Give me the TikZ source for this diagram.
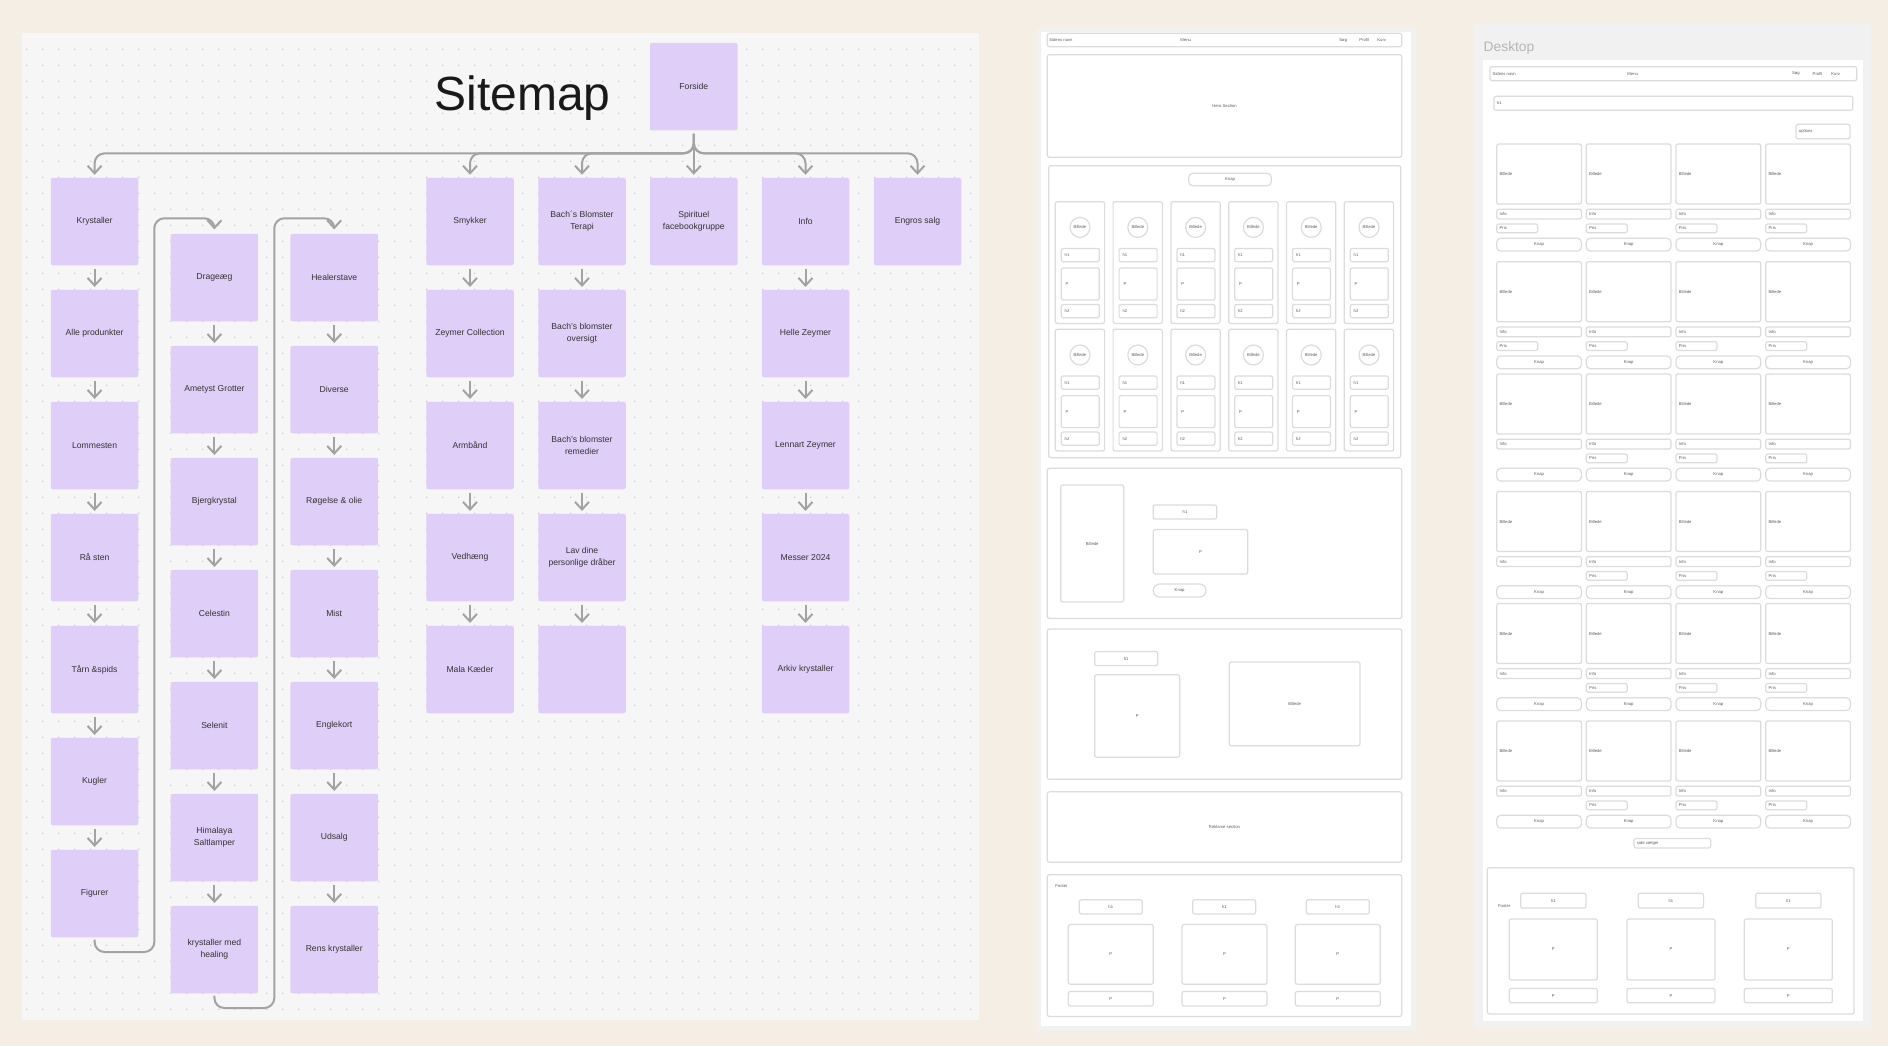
\documentclass[tikz,border=0pt]{standalone}
\usepackage{fontspec}
\setmainfont{Liberation Sans}
\usetikzlibrary{arrows.meta}
\definecolor{pagebg}{HTML}{F5EEE4}
\definecolor{panelbg}{HTML}{F6F6F6}
\definecolor{lav}{HTML}{DFCEF8}
\definecolor{conngray}{HTML}{A3A3A3}
\definecolor{dotgray}{HTML}{CCCCCC}
\definecolor{wfline}{HTML}{DCDCDC}
\definecolor{wfframe}{HTML}{F1F1F1}
\definecolor{boxtext}{HTML}{333333}
\definecolor{wftextc}{HTML}{5E5E5E}
\definecolor{titlegray}{HTML}{B5B5B5}

% wireframe helpers: plain rectangle, rectangle with centred label, rectangle with left label
\newcommand\wfrect[4]{\draw[wf] (#1,#2) rectangle (#3,#4);}
\newcommand\wfbox[5]{\draw[wf] (#1,#2) rectangle (#3,#4);
  \node[wft] at ({(#1+#3)/2},{(#2+#4)/2}) {#5};}
\newcommand\wfboxl[5]{\draw[wf] (#1,#2) rectangle (#3,#4);
  \node[wft,anchor=west] at ({#1+2.5},{(#2+#4)/2}) {#5};}

\begin{document}
\begin{tikzpicture}[x=0.5pt,y=-0.5pt,
  sbox/.style={fill=lav, draw=none, rounded corners=1pt,
    minimum width=43.75pt, minimum height=43.75pt, inner sep=0pt,
    align=center, text=boxtext, font=\fontsize{4.3}{6.1}\selectfont},
  conn/.style={draw=conngray, line width=1pt, rounded corners=5pt,
    -{Straight Barb[length=3.8pt,width=7pt]},
    shorten <=1.6pt, shorten >=1.3pt},
  wf/.style={draw=wfline, line width=0.6pt, rounded corners=1pt},
  wft/.style={font=\fontsize{2.1}{2.5}\selectfont, text=wftextc, inner sep=0pt},
]
\useasboundingbox (0,0) rectangle (1888,1046);
\fill[pagebg] (0,0) rectangle (1888,1046);

%% ---------------- Sitemap board ----------------
\fill[panelbg] (21.7,32.5) rectangle (979,1020);
\foreach \gx in {0,...,59}
  \foreach \gy in {0,...,60}
    \fill[dotgray] ({26.7+16*\gx},{49.3+16*\gy}) circle (0.42pt);

\node[anchor=base, font=\fontsize{24}{28}\selectfont, text=black!90] (title) at (522.5,110) {Sitemap};

\node[sbox] (fs) at (693.8,86.5) {Forside};

% column Krystaller
\foreach \t [count=\i from 0] in {Krystaller,{Alle produnkter},Lommesten,{Rå sten},{Tårn \&spids},Kugler,Figurer}
  \node[sbox] (a\i) at (94.6,{221.5+112*\i}) {\t};
% column Drageæg
\foreach \t [count=\i from 0] in {Drageæg,{Ametyst Grotter},Bjergkrystal,Celestin,Selenit,{Himalaya\\Saltlamper},{krystaller med\\healing}}
  \node[sbox] (b\i) at (214.4,{277.5+112*\i}) {\t};
% column Healerstave
\foreach \t [count=\i from 0] in {Healerstave,Diverse,{Røgelse \& olie},Mist,Englekort,Udsalg,{Rens krystaller}}
  \node[sbox] (c\i) at (334.2,{277.5+112*\i}) {\t};
% column Smykker
\foreach \t [count=\i from 0] in {Smykker,{Zeymer Collection},Armbånd,Vedhæng,{Mala Kæder}}
  \node[sbox] (d\i) at (470,{221.5+112*\i}) {\t};
% column Bach
\foreach \t [count=\i from 0] in {{Bach´s Blomster\\Terapi},{Bach's blomster\\oversigt},{Bach's blomster\\remedier},{Lav dine\\personlige dråber}}
  \node[sbox] (e\i) at (582,{221.5+112*\i}) {\t};
\node[sbox] (e4) at (582,669.5) {};
% single boxes and Info column
\node[sbox] (f0) at (693.8,221.5) {Spirituel\\facebookgruppe};
\foreach \t [count=\i from 0] in {Info,{Helle Zeymer},{Lennart Zeymer},{Messer 2024},{Arkiv krystaller}}
  \node[sbox] (g\i) at (805.5,{221.5+112*\i}) {\t};
\node[sbox] (h0) at (917.5,221.5) {Engros salg};

% arrows inside each column
\foreach \col/\n in {a/6,b/6,c/6,d/4,e/4,g/4}
  \foreach \i in {1,...,\n}{
    \pgfmathtruncatemacro\k{\i-1}
    \draw[conn, shorten <=1.7pt, shorten >=1.2pt] (\col\k.south) -- (\col\i.north);
  }

% branches from Forside
\coordinate (hub) at (693.8,153.3);
\foreach \t in {a0,d0,e0,g0,h0}
  \draw[conn] (fs.south) -- (hub) -- (\t.north |- hub) -- (\t.north);
\draw[conn] (fs.south) -- (f0.north);

% column wrap-arounds
\coordinate (l1b) at (154.3,952);
\coordinate (l1t) at (154.3,218.3);
\draw[conn, shorten <=1pt, shorten >=2pt] (a6.south) |- (l1b) -- (l1t) -| (b0.north);
\coordinate (l2b) at (274.3,1008);
\coordinate (l2t) at (274.3,218.3);
\draw[conn, shorten <=1pt, shorten >=2pt] (b6.south) |- (l2b) -- (l2t) -| (c0.north);

%% ---------------- Front page wireframe ----------------
\fill[wfframe] (1036.7,26.7) rectangle (1416,1031);
\fill[white] (1041,31.5) rectangle (1410.5,1026);

\wfrect{1047.3}{33.3}{1401.7}{46.7}
\node[wft,anchor=west] at (1049,40) {Sidens navn};
\node[wft,anchor=west] at (1180,40) {Menu};
\node[wft,anchor=west] at (1339,40) {Søg};
\node[wft,anchor=west] at (1359,40) {Profil};
\node[wft,anchor=west] at (1377,40) {Kurv};

\wfbox{1047.3}{54.7}{1401.7}{157.3}{Hero Section}

\wfrect{1048.7}{165.7}{1400.7}{457.7}
\draw[wf, rounded corners=2pt] (1188.7,173.3) rectangle (1271.3,185.7);
\node[wft] at (1230,179.5) {Knap};
\foreach \ry in {201.7,329.3}
  \foreach \i in {0,...,5}{
    \pgfmathsetmacro\cx{1055.3+57.8*\i}
    \draw[wf] (\cx,\ry) rectangle ({\cx+49.3},{\ry+121.7});
    \draw[wf] ({\cx+24.7},{\ry+25.7}) circle (5pt);
    \node[wft] at ({\cx+24.7},{\ry+25.7}) {Billede};
    \draw[wf] ({\cx+6},{\ry+46.7}) rectangle ({\cx+44},{\ry+60});
    \node[wft,anchor=west] at ({\cx+9},{\ry+53.3}) {h1};
    \draw[wf] ({\cx+6},{\ry+66.3}) rectangle ({\cx+44},{\ry+98.3});
    \node[wft,anchor=west] at ({\cx+10},{\ry+82.3}) {P};
    \draw[wf] ({\cx+6},{\ry+102.7}) rectangle ({\cx+44},{\ry+116});
    \node[wft,anchor=west] at ({\cx+9},{\ry+109.3}) {h2};
  }

\wfrect{1047.3}{468.3}{1401.7}{618.4}
\wfbox{1060.7}{485}{1123.7}{602}{Billede}
\wfbox{1153.3}{505}{1216.7}{519}{h1}
\wfbox{1153.3}{529.5}{1247.7}{574}{P}
\draw[wf, rounded corners=3.2pt] (1153.3,584) rectangle (1206,597);
\node[wft] at (1179.6,590.5) {Knap};

\wfrect{1047.3}{629}{1401.7}{779.3}
\wfbox{1094.7}{651.5}{1157.7}{665.6}{h1}
\wfbox{1094.7}{674.7}{1179.7}{757.2}{P}
\wfbox{1229.3}{662}{1360}{745.8}{Billede}

\wfbox{1047.3}{791.8}{1401.7}{862.2}{Reklame section}

\wfrect{1047.3}{874.7}{1401.7}{1016.5}
\node[wft,anchor=west] at (1055,886) {Footer};
\foreach \hx/\px in {1079.3/1068.3,1192.7/1182,1306.3/1295.3}{
  \wfbox{\hx}{899.8}{\hx+63}{913.9}{h1}
  \wfbox{\px}{924.5}{\px+85}{984.2}{P}
  \wfbox{\px}{991.4}{\px+85}{1005.9}{P}
}

%% ---------------- Desktop product page wireframe ----------------
\fill[wfframe] (1474,24) rectangle (1870.7,1028.3);
\fill[white] (1483.3,60) rectangle (1862.7,1021);
\node[anchor=base west, inner sep=0pt, text=titlegray, font=\fontsize{6.9}{8}\selectfont] (desk) at (1483.3,51.7) {Desktop};

\wfrect{1490}{66.7}{1856.7}{80.7}
\node[wft,anchor=west] at (1492.3,73.7) {Sidens navn};
\node[wft,anchor=west] at (1627,73.7) {Menu};
\node[wft,anchor=west] at (1791.7,73.7) {Søg};
\node[wft,anchor=west] at (1812.3,73.7) {Profil};
\node[wft,anchor=west] at (1831,73.7) {Kurv};

\wfboxl{1494}{96.3}{1852.7}{110.3}{h1}
\wfboxl{1796}{124.3}{1850}{138.7}{options}

\foreach \ry [count=\rr] in {144,261.7,374,491.5,603.5,721}
  \foreach \cxx [count=\cc] in {1496.7,1586.3,1676,1765.7}{
    \wfboxl{\cxx}{\ry}{\cxx+84.7}{\ry+60}{Billede}
    \wfboxl{\cxx}{\ry+65.3}{\cxx+84.7}{\ry+75}{Info}
    \pgfmathtruncatemacro\showp{or(\rr<3,\cc>1)}
    \ifnum\showp=1
      \wfboxl{\cxx}{\ry+80}{\cxx+41}{\ry+88.7}{Pris}
    \fi
    \draw[wf, rounded corners=2pt] (\cxx,{\ry+94.3}) rectangle ({\cxx+84.7},{\ry+107});
    \node[wft] at ({\cxx+42.35},{\ry+100.6}) {Knap};
  }

\wfboxl{1634}{838.4}{1710.7}{847.9}{side vælger}

\wfrect{1487.3}{867.7}{1854}{1014}
\node[wft,anchor=west] at (1497.7,906) {Footer};
\foreach \hx/\px in {1520.7/1509.3,1638.3/1627,1755.7/1744.3}{
  \wfbox{\hx}{893.2}{\hx+65.3}{908}{h1}
  \wfbox{\px}{919}{\px+88}{980}{P}
  \wfbox{\px}{988.4}{\px+88}{1002.8}{P}
}
\end{tikzpicture}
\end{document}
